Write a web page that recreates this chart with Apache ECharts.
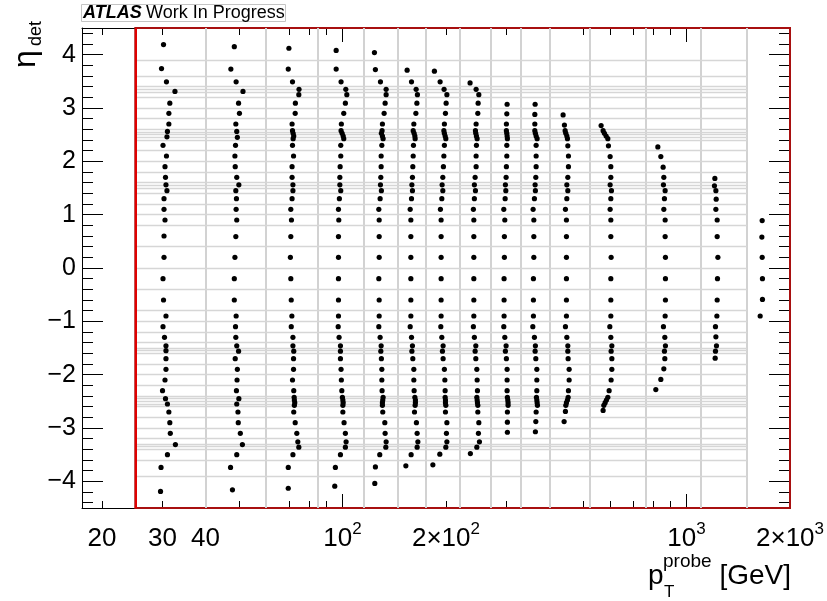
<!DOCTYPE html>
<html><head><meta charset="utf-8">
<script src="https://cdn.jsdelivr.net/npm/echarts@6/dist/echarts.min.js"></script>
<style>html,body{margin:0;padding:0;background:#fff}#c{width:827px;height:601px}</style>
</head><body><div id="c"></div>
<script>
// ---- axis / binning definitions ----
const xMin = 17.5, xMax = 2000;
const yMin = -4.5, yMax = 4.5;
const redBoxPt = [25, 2000];
const ptEdges = [40, 60, 85, 115, 145, 175, 220, 270, 330, 400, 525, 760, 1100, 1500];
const etaEdges = [-3.9, -3.6, -3.4, -3.35, -3.3, -3.2, -3.0, -2.8, -2.6, -2.55, -2.5, -2.45, -2.4, -2.2, -2.0, -1.8, -1.6, -1.55, -1.5, -1.4, -1.2, -1.0, -0.8, -0.4, 0, 0.4, 0.8, 1.0, 1.2, 1.4, 1.5, 1.55, 1.6, 1.8, 2.0, 2.2, 2.4, 2.45, 2.5, 2.55, 2.6, 2.8, 3.0, 3.2, 3.3, 3.35, 3.4, 3.6, 3.9];
const xMajorTicks = [100, 1000];
const xMinorTicks = [20, 30, 40, 50, 60, 70, 80, 90, 200, 300, 400, 500, 600, 700, 800, 900];
const xLabelValues = [20, 30, 40, 100, 200, 1000, 2000];
const xLabelTexts = ['20', '30', '40', '10{s|2}', '2\u00d710{s|2}', '10{s|3}', '2\u00d710{s|3}'];
const yMajorTicks = [-4, -3, -2, -1, 0, 1, 2, 3, 4];
const yMinorTicks = [-4.4, -4.2, -3.8, -3.6, -3.4, -3.2, -2.8, -2.6, -2.4, -2.2, -1.8, -1.6, -1.4, -1.2, -0.8, -0.6, -0.4, -0.2, 0.2, 0.4, 0.6, 0.8, 1.2, 1.4, 1.6, 1.8, 2.2, 2.4, 2.6, 2.8, 3.2, 3.4, 3.6, 3.8, 4.2, 4.4];

// ---- data: per pT bin, mean pT (GeV) and eta_det of each point ----
const eta1 = [4.19, 3.74, 3.49, 3.31, 3.09, 2.9, 2.7, 2.56, 2.46, 2.3, 2.1, 1.9, 1.7, 1.56, 1.45, 1.3, 1.1, 0.9, 0.6, 0.2, -0.2, -0.6, -0.9, -1.1, -1.3, -1.46, -1.55, -1.7, -1.9, -2.1, -2.3, -2.45, -2.55, -2.7, -2.9, -3.1, -3.31, -3.5, -3.74, -4.19];
const pt1 = [30.2, 29.8, 30.8, 32.6, 31.5, 31.3, 31.3, 31.0, 30.9, 30.1, 30.8, 30.5, 30.6, 30.7, 30.9, 30.3, 30.3, 30.5, 30.3, 30.3, 30.1, 30.2, 30.7, 30.1, 30.4, 30.7, 30.7, 30.7, 30.7, 30.5, 30.0, 30.6, 31.0, 31.3, 31.5, 31.6, 32.7, 31.0, 29.7, 29.6];
const eta2 = [4.15, 3.73, 3.49, 3.31, 3.09, 2.9, 2.7, 2.56, 2.45, 2.3, 2.1, 1.9, 1.7, 1.56, 1.45, 1.3, 1.1, 0.9, 0.59, 0.2, -0.2, -0.6, -0.9, -1.1, -1.3, -1.46, -1.56, -1.7, -1.9, -2.1, -2.3, -2.45, -2.55, -2.7, -2.9, -3.1, -3.31, -3.5, -3.74, -4.16];
const pt2 = [48.5, 47.4, 49.1, 51.4, 49.9, 50.2, 49.0, 49.3, 49.5, 48.9, 48.7, 48.8, 49.3, 50.0, 49.0, 49.2, 49.1, 49.3, 49.0, 48.7, 48.5, 48.5, 49.1, 48.9, 49.0, 49.3, 49.9, 48.8, 49.5, 49.4, 49.2, 50.0, 49.3, 49.7, 49.8, 50.5, 51.2, 49.3, 47.3, 47.9];
const eta3 = [4.12, 3.73, 3.49, 3.35, 3.25, 3.09, 2.9, 2.7, 2.575, 2.525, 2.475, 2.425, 2.3, 2.1, 1.9, 1.7, 1.56, 1.45, 1.3, 1.1, 0.9, 0.59, 0.2, -0.2, -0.6, -0.9, -1.1, -1.3, -1.46, -1.56, -1.7, -1.9, -2.1, -2.3, -2.425, -2.475, -2.525, -2.575, -2.7, -2.9, -3.1, -3.26, -3.36, -3.5, -3.74, -4.13];
const pt3 = [69.9, 69.6, 71.6, 74.8, 74.7, 73.0, 72.9, 71.4, 71.6, 71.9, 72.2, 71.9, 71.6, 72.1, 71.4, 71.4, 71.8, 71.8, 71.4, 70.8, 71.1, 70.8, 70.6, 70.8, 71.0, 71.3, 71.0, 71.8, 71.8, 72.2, 72.1, 72.1, 71.6, 72.2, 72.4, 72.5, 72.7, 72.5, 72.2, 72.9, 73.7, 74.2, 74.7, 71.8, 69.6, 69.6];
const eta4 = [4.08, 3.73, 3.49, 3.35, 3.25, 3.09, 2.9, 2.7, 2.575, 2.525, 2.475, 2.425, 2.3, 2.1, 1.9, 1.7, 1.56, 1.45, 1.3, 1.1, 0.9, 0.59, 0.2, -0.2, -0.6, -0.9, -1.1, -1.3, -1.46, -1.56, -1.7, -1.9, -2.1, -2.3, -2.425, -2.475, -2.525, -2.575, -2.7, -2.9, -3.1, -3.26, -3.36, -3.5, -3.74, -4.09];
const pt4 = [95.9, 95.9, 99.1, 102.3, 103.0, 102.0, 100.9, 99.3, 99.1, 99.8, 100.5, 100.9, 98.9, 98.9, 98.5, 98.3, 98.3, 98.9, 98.0, 97.4, 97.6, 97.4, 97.4, 97.4, 97.4, 97.4, 97.2, 97.8, 98.7, 98.7, 98.7, 99.1, 99.3, 99.6, 100.0, 100.3, 100.5, 100.3, 100.3, 101.1, 102.0, 102.5, 102.0, 98.7, 95.4, 95.0];
const eta5 = [4.04, 3.72, 3.49, 3.35, 3.25, 3.09, 2.9, 2.7, 2.575, 2.525, 2.475, 2.425, 2.3, 2.1, 1.9, 1.7, 1.56, 1.45, 1.3, 1.1, 0.9, 0.59, 0.2, -0.2, -0.6, -0.9, -1.1, -1.3, -1.46, -1.56, -1.7, -1.9, -2.1, -2.3, -2.425, -2.475, -2.525, -2.575, -2.7, -2.9, -3.1, -3.26, -3.36, -3.5, -3.73, -4.04];
const pt5 = [123.9, 124.7, 129.0, 134.0, 134.0, 133.1, 132.2, 130.7, 130.4, 129.8, 130.7, 131.3, 130.2, 129.6, 129.6, 129.3, 129.0, 129.8, 128.7, 127.6, 127.9, 127.9, 127.9, 127.6, 127.9, 127.9, 127.6, 128.7, 129.6, 129.3, 129.8, 130.2, 130.2, 130.4, 131.3, 131.0, 130.7, 130.7, 131.0, 132.8, 133.1, 134.0, 133.7, 128.4, 124.7, 124.2];
const eta6 = [3.71, 3.49, 3.35, 3.25, 3.09, 2.9, 2.7, 2.575, 2.525, 2.475, 2.425, 2.3, 2.1, 1.9, 1.7, 1.56, 1.45, 1.3, 1.1, 0.9, 0.59, 0.2, -0.2, -0.6, -0.9, -1.1, -1.3, -1.46, -1.56, -1.7, -1.9, -2.1, -2.3, -2.425, -2.475, -2.525, -2.575, -2.7, -2.9, -3.1, -3.26, -3.36, -3.5, -3.71];
const pt6 = [154.2, 158.8, 163.8, 165.2, 164.6, 163.5, 161.3, 160.6, 161.6, 162.4, 162.7, 160.9, 160.6, 160.2, 159.8, 159.2, 159.8, 158.8, 157.4, 158.1, 158.1, 158.1, 158.1, 158.1, 158.1, 157.4, 158.8, 159.8, 159.2, 160.2, 161.3, 161.3, 161.6, 162.4, 163.0, 163.0, 162.7, 162.0, 164.1, 164.9, 165.7, 164.9, 158.4, 152.9];
const eta7 = [3.69, 3.49, 3.35, 3.25, 3.09, 2.9, 2.7, 2.575, 2.525, 2.475, 2.425, 2.3, 2.1, 1.9, 1.7, 1.56, 1.45, 1.3, 1.1, 0.9, 0.59, 0.2, -0.2, -0.6, -0.9, -1.1, -1.3, -1.46, -1.56, -1.7, -1.9, -2.1, -2.3, -2.425, -2.475, -2.525, -2.575, -2.7, -2.9, -3.1, -3.26, -3.36, -3.49, -3.69];
const pt7 = [185.1, 192.3, 197.5, 201.2, 200.2, 199.3, 197.9, 197.2, 197.9, 198.9, 199.8, 197.9, 197.2, 196.6, 195.8, 194.9, 195.8, 194.5, 192.7, 193.6, 193.6, 193.6, 193.6, 193.6, 193.6, 193.2, 194.5, 196.2, 195.3, 196.2, 197.9, 198.5, 198.9, 198.9, 199.3, 199.3, 199.8, 199.3, 201.2, 200.6, 201.2, 199.8, 191.9, 183.2];
const eta8 = [3.47, 3.35, 3.25, 3.09, 2.9, 2.7, 2.575, 2.525, 2.475, 2.425, 2.3, 2.1, 1.9, 1.7, 1.56, 1.45, 1.3, 1.1, 0.9, 0.59, 0.2, -0.2, -0.6, -0.9, -1.1, -1.3, -1.46, -1.56, -1.7, -1.9, -2.1, -2.3, -2.425, -2.475, -2.525, -2.575, -2.7, -2.9, -3.1, -3.26, -3.36, -3.48];
const pt8 = [235.0, 244.7, 249.2, 248.0, 247.5, 244.7, 243.6, 244.2, 245.2, 246.4, 245.2, 244.7, 244.7, 243.1, 241.9, 243.6, 241.9, 240.3, 241.0, 241.0, 241.0, 241.0, 241.0, 241.0, 240.3, 241.9, 244.2, 243.1, 244.2, 245.9, 246.4, 246.9, 245.9, 246.4, 246.9, 247.5, 247.5, 249.2, 248.5, 250.2, 245.9, 235.5];
const eta9 = [3.07, 2.89, 2.7, 2.575, 2.525, 2.475, 2.425, 2.3, 2.1, 1.9, 1.7, 1.56, 1.45, 1.3, 1.1, 0.9, 0.59, 0.2, -0.2, -0.6, -0.9, -1.1, -1.3, -1.46, -1.56, -1.7, -1.9, -2.1, -2.3, -2.425, -2.475, -2.525, -2.575, -2.7, -2.89, -3.08];
const pt9 = [301.1, 300.5, 299.7, 299.7, 300.5, 301.1, 301.7, 300.5, 300.5, 299.7, 299.1, 297.7, 298.5, 297.2, 294.5, 296.5, 295.7, 295.7, 295.1, 295.1, 295.1, 294.5, 296.5, 299.1, 297.7, 299.7, 301.1, 301.1, 301.1, 301.7, 302.5, 303.1, 303.1, 301.7, 301.7, 301.7];
const eta10 = [3.07, 2.88, 2.7, 2.575, 2.525, 2.475, 2.425, 2.3, 2.1, 1.9, 1.7, 1.56, 1.45, 1.3, 1.1, 0.9, 0.59, 0.2, -0.2, -0.6, -0.9, -1.1, -1.3, -1.46, -1.56, -1.7, -1.9, -2.1, -2.3, -2.425, -2.475, -2.525, -2.575, -2.7, -2.88, -3.07];
const pt10 = [363.2, 362.5, 362.5, 362.5, 363.9, 365.7, 368.1, 365.7, 365.7, 365.7, 364.9, 363.2, 363.9, 361.5, 358.4, 360.1, 360.1, 360.1, 359.1, 359.1, 359.1, 357.7, 361.5, 363.9, 363.2, 364.9, 367.4, 367.4, 367.4, 366.4, 367.4, 368.1, 368.9, 365.7, 364.9, 363.9];
const eta11 = [2.87, 2.68, 2.575, 2.525, 2.475, 2.425, 2.29, 2.1, 1.9, 1.7, 1.56, 1.45, 1.3, 1.1, 0.9, 0.59, 0.2, -0.2, -0.6, -0.9, -1.1, -1.3, -1.46, -1.56, -1.7, -1.9, -2.1, -2.3, -2.425, -2.475, -2.525, -2.575, -2.69, -2.88];
const pt11 = [438.0, 441.9, 444.0, 446.1, 449.1, 450.9, 452.1, 454.0, 454.0, 452.1, 449.1, 452.1, 449.1, 444.9, 447.9, 447.9, 447.9, 447.9, 447.9, 447.9, 444.9, 449.1, 452.1, 452.1, 453.0, 456.1, 456.1, 454.0, 453.0, 450.9, 447.9, 446.1, 444.9, 441.0];
const eta12 = [2.67, 2.575, 2.525, 2.475, 2.425, 2.29, 2.09, 1.9, 1.7, 1.56, 1.45, 1.3, 1.1, 0.9, 0.59, 0.2, -0.2, -0.6, -0.9, -1.1, -1.3, -1.46, -1.56, -1.7, -1.9, -2.1, -2.3, -2.425, -2.475, -2.525, -2.575, -2.67];
const pt12 = [564.9, 572.5, 577.6, 584.2, 590.9, 593.3, 600.1, 602.9, 602.9, 600.1, 605.4, 602.9, 600.1, 602.9, 602.9, 604.1, 602.9, 602.9, 602.9, 598.9, 602.9, 607.0, 604.1, 607.0, 607.0, 604.1, 596.1, 590.9, 585.4, 580.3, 575.3, 572.5];
const eta13 = [2.27, 2.09, 1.89, 1.7, 1.56, 1.45, 1.3, 1.1, 0.9, 0.59, 0.2, -0.2, -0.6, -0.9, -1.1, -1.3, -1.46, -1.56, -1.7, -1.89, -2.09, -2.28];
const pt13 = [825.8, 842.5, 855.6, 859.6, 857.3, 867.2, 863.0, 859.6, 867.2, 867.2, 868.9, 868.9, 868.9, 867.2, 857.3, 865.4, 868.9, 863.0, 865.4, 859.6, 842.5, 814.7];
const eta14 = [1.68, 1.54, 1.45, 1.29, 1.1, 0.9, 0.59, 0.2, -0.2, -0.6, -0.9, -1.1, -1.29, -1.46, -1.56, -1.69];
const pt14 = [1209.6, 1206.3, 1217.8, 1220.2, 1217.8, 1228.4, 1228.4, 1234.3, 1230.9, 1228.4, 1226.0, 1214.5, 1217.8, 1222.7, 1214.5, 1212.0];
const eta15 = [0.89, 0.58, 0.2, -0.2, -0.59, -0.9];
const pt15 = [1660.1, 1656.7, 1660.1, 1663.2, 1663.2, 1638.1];

const columns = [[pt1, eta1], [pt2, eta2], [pt3, eta3], [pt4, eta4], [pt5, eta5], [pt6, eta6], [pt7, eta7], [pt8, eta8], [pt9, eta9], [pt10, eta10], [pt11, eta11], [pt12, eta12], [pt13, eta13], [pt14, eta14], [pt15, eta15]];

// ---- chart ----
const FONT = '"Liberation Sans", Arial, Helvetica, sans-serif';
const L = Math.log10;
const chart = echarts.init(document.getElementById('c'), null, {renderer: 'canvas'});

function tickAxis(pos, ticks, len, withLine, withLabels) {
  return {
    type: 'value', position: pos, min: L(xMin), max: L(xMax),
    axisLine: {show: withLine, onZero: false, lineStyle: {color: '#000', width: 1}},
    axisTick: {show: true, inside: true, length: len, lineStyle: {color: '#000', width: 1}, customValues: ticks.map(L)},
    axisLabel: withLabels ? {
      show: true, margin: 13, color: '#000', fontSize: 26, fontFamily: FONT, lineHeight: 36,
      customValues: xLabelValues.map(L),
      formatter: function (v) {
        const i = xLabelValues.findIndex(p => Math.abs(L(p) - v) < 1e-6);
        return i >= 0 ? xLabelTexts[i] : '';
      },
      rich: {s: {fontSize: 17, lineHeight: 17, verticalAlign: 'top', fontFamily: FONT, color: '#000'}}
    } : {show: false},
    splitLine: {show: false}, minorTick: {show: false}
  };
}
function yTickAxis(pos, ticks, len, withLine, withLabels) {
  return {
    type: 'value', position: pos, min: yMin, max: yMax,
    axisLine: {show: withLine, onZero: false, lineStyle: {color: '#000', width: 1}},
    axisTick: {show: true, inside: true, length: len, lineStyle: {color: '#000', width: 1}, customValues: ticks},
    axisLabel: withLabels ? {
      show: true, margin: 6, color: '#000', fontSize: 25, fontFamily: FONT,
      customValues: yMajorTicks,
      formatter: v => (v < 0 ? '\u2212' + Math.abs(v) : String(v))
    } : {show: false},
    splitLine: {show: false}
  };
}

const scatterSeries = columns.map(([pts, etas]) => ({
  type: 'scatter', xAxisIndex: 0, yAxisIndex: 0, symbol: 'circle', symbolSize: 5.2,
  itemStyle: {color: '#000', opacity: 1}, silent: true, z: 5,
  data: pts.map((p, i) => [p, etas[i]])
}));

const option = {
  animation: false,
  backgroundColor: '#fff',
  grid: {left: 82, right: 37, top: 28, bottom: 93, containLabel: false, outerBoundsMode: 'none'},
  xAxis: [
    {type: 'log', logBase: 10, min: xMin, max: xMax, show: false},
    tickAxis('bottom', xMajorTicks, 14, true, true),
    tickAxis('bottom', xMinorTicks, 7, false, false),
    tickAxis('top', xMajorTicks, 14, true, false),
    tickAxis('top', xMinorTicks, 7, false, false)
  ],
  yAxis: [
    yTickAxis('left', yMajorTicks, 21, true, true),
    yTickAxis('left', yMinorTicks, 11, false, false),
    yTickAxis('right', yMajorTicks, 21, true, false),
    yTickAxis('right', yMinorTicks, 11, false, false)
  ],
  series: [
    { // bin-edge grid lines
      type: 'line', xAxisIndex: 0, yAxisIndex: 0, data: [], z: 1, silent: true, clip: false,
      markLine: {
        silent: true, symbol: ['none', 'none'], label: {show: false}, animation: false,
        lineStyle: {color: '#d2d2d2', width: 2, type: 'solid'},
        data: ptEdges.map(v => ({xAxis: v})).concat(
          etaEdges.map(e => [{coord: [redBoxPt[0], e], lineStyle: {width: 1.3, color: '#d6d6d6'}}, {coord: [ptEdges[ptEdges.length - 1], e]}]))
      }
    },
    { // frame of the valid region
      type: 'line', xAxisIndex: 0, yAxisIndex: 0, data: [], z: 3, silent: true, clip: false,
      markArea: {
        silent: true, label: {show: false},
        itemStyle: {color: 'rgba(0,0,0,0)', borderColor: '#a81010', borderWidth: 2},
        data: [[{coord: [redBoxPt[0], yMin]}, {coord: [redBoxPt[1], yMax]}]]
      },
      markLine: {
        silent: true, symbol: ['none', 'none'], label: {show: false}, animation: false,
        lineStyle: {color: '#e00000', width: 2, type: 'solid'},
        data: [{xAxis: redBoxPt[0]}]
      }
    }
  ].concat(scatterSeries),
  graphic: [
    {type: 'rect', shape: {x: 81.5, y: 4.5, width: 204, height: 17}, style: {fill: 'none', stroke: '#c4c4c4', lineWidth: 1}, silent: true},
    {type: 'text', x: 83, y: 13.5, style: {text: 'ATLAS', font: 'italic bold 18px ' + FONT, fill: '#000', verticalAlign: 'middle', align: 'left'}, silent: true},
    {type: 'text', x: 146, y: 13.5, style: {text: 'Work In Progress', font: '18px ' + FONT, fill: '#000', verticalAlign: 'middle', align: 'left'}, silent: true},
    {type: 'text', x: 26, y: 68, rotation: Math.PI / 2, style: {text: '\u03b7', font: '32px ' + FONT, fill: '#000', verticalAlign: 'middle', align: 'left'}, silent: true},
    {type: 'text', x: 36, y: 46, rotation: Math.PI / 2, style: {text: 'det', font: '18px ' + FONT, fill: '#000', verticalAlign: 'middle', align: 'left'}, silent: true},
    {type: 'text', x: 648, y: 576, style: {text: 'p', font: '28px ' + FONT, fill: '#000', verticalAlign: 'middle', align: 'left'}, silent: true},
    {type: 'text', x: 663, y: 562, style: {text: 'probe', font: '19px ' + FONT, fill: '#000', verticalAlign: 'middle', align: 'left'}, silent: true},
    {type: 'text', x: 664, y: 592, style: {text: 'T', font: '17px ' + FONT, fill: '#000', verticalAlign: 'middle', align: 'left'}, silent: true},
    {type: 'text', x: 791, y: 576, style: {text: '[GeV]', font: '28px ' + FONT, fill: '#000', verticalAlign: 'middle', align: 'right'}, silent: true}
  ]
};
chart.setOption(option);
</script></body></html>
